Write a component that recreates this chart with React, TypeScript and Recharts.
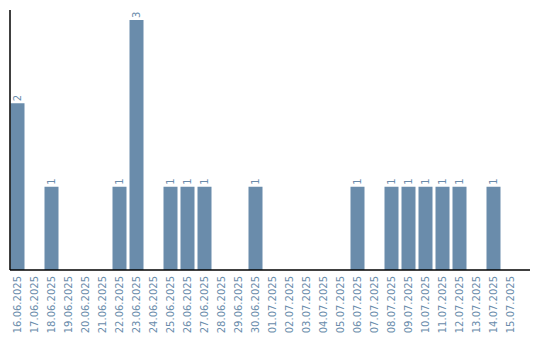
import React from 'react';
import { BarChart, Bar, XAxis, YAxis } from 'recharts';

const dates = [
  '16.06.2025', '17.06.2025', '18.06.2025', '19.06.2025', '20.06.2025', '21.06.2025',
  '22.06.2025', '23.06.2025', '24.06.2025', '25.06.2025', '26.06.2025', '27.06.2025',
  '28.06.2025', '29.06.2025', '30.06.2025', '01.07.2025', '02.07.2025', '03.07.2025',
  '04.07.2025', '05.07.2025', '06.07.2025', '07.07.2025', '08.07.2025', '09.07.2025',
  '10.07.2025', '11.07.2025', '12.07.2025', '13.07.2025', '14.07.2025', '15.07.2025',
];
const counts = [2, 0, 1, 0, 0, 0, 1, 3, 0, 1, 1, 1, 0, 0, 1, 0, 0, 0, 0, 0, 1, 0, 1, 1, 1, 1, 1, 0, 1, 0];

const data = dates.map((d, i) => ({ date: d, count: counts[i] }));

const COLOR = '#6a8cab';
const FONT = 'DejaVu Sans, Verdana, sans-serif';

const Tick = (props: any) => {
  const { x, y, payload } = props;
  return (
    <g transform={`translate(${x},${y})`}>
      <text
        transform="rotate(-90)"
        x={-6}
        y={0}
        dy="0.35em"
        textAnchor="end"
        fill={COLOR}
        fontSize={10}
        fontFamily={FONT}
      >
        {payload.value}
      </text>
    </g>
  );
};

const BarLabel = (props: any) => {
  const { x, y, width, value } = props;
  if (!value) return null;
  return (
    <text
      transform={`translate(${x + width / 2},${y - 2}) rotate(-90)`}
      dy="0.35em"
      textAnchor="start"
      fill={COLOR}
      fontSize={10}
      fontFamily={FONT}
    >
      {value}
    </text>
  );
};

export default function App() {
  return (
    <div style={{ position: 'absolute', left: 0, top: 0 }}>
      <BarChart
        width={540}
        height={340}
        data={data}
        margin={{ top: 10, right: 10, bottom: 0, left: 9 }}
      >
        <XAxis
          dataKey="date"
          interval={0}
          height={70}
          tickLine={false}
          tickSize={0}
          tickMargin={0}
          tick={<Tick />}
          axisLine={{ stroke: '#000', strokeWidth: 1.5 }}
          padding={{ left: -1.5, right: 11.5 }}
        />
        <YAxis
          width={1}
          domain={[0, 3.12]}
          tick={false}
          tickLine={false}
          axisLine={{ stroke: '#000', strokeWidth: 1.5 }}
        />
        <Bar
          dataKey="count"
          fill={COLOR}
          barSize={14}
          isAnimationActive={false}
          label={<BarLabel />}
        />
      </BarChart>
    </div>
  );
}
